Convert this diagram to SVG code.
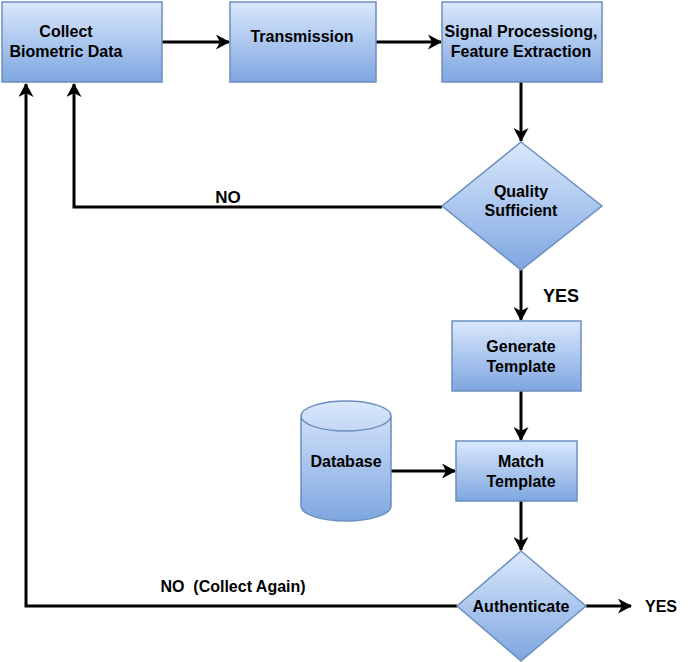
<svg xmlns="http://www.w3.org/2000/svg" width="692" height="662" viewBox="0 0 692 662">
<defs>
<linearGradient id="g" x1="0" y1="0" x2="0" y2="1"><stop offset="0" stop-color="#dae8fc"/><stop offset="1" stop-color="#7ea6e0"/></linearGradient>
<marker id="ah" viewBox="0 0 14 15" refX="13" refY="7.5" markerWidth="14" markerHeight="15" markerUnits="userSpaceOnUse" orient="auto"><path d="M0,0 L14,7.5 L0,15 L4,7.5 Z" fill="#000"/></marker>
<style>
.n{fill:url(#g);stroke:#6c8ebf;stroke-width:1.5}
.t{font-family:"Liberation Sans",Arial,sans-serif;font-weight:bold;font-size:16px;fill:#000;text-anchor:middle}
.c{fill:none;stroke:#000;stroke-width:3;marker-end:url(#ah)}
</style>
</defs>
<rect width="692" height="662" fill="#fff"/>
<g id="connectors">
<path class="c" d="M162,42 L229,42"/>
<path class="c" d="M376,42 L441,42"/>
<path class="c" d="M521,82 L521,141"/>
<path class="c" d="M442,207 L74,207 L74,84"/>
<path class="c" d="M521,270 L521,320"/>
<path class="c" d="M521,391 L521,440"/>
<path class="c" d="M391,471 L455,471"/>
<path class="c" d="M521,501 L521,550"/>
<path class="c" d="M586,606 L631,606"/>
<path class="c" d="M457,606 L26,606 L26,84"/>
<text class="t" x="228" y="203" style="font-size:17px">NO</text>
<text class="t" x="561" y="302" style="font-size:18px">YES</text>
<text class="t" x="233" y="592" xml:space="preserve">NO  (Collect Again)</text>
<text class="t" x="661" y="612">YES</text>
</g>
<g id="collect"><rect class="n" x="2" y="2" width="160" height="80"/><text class="t" x="66" y="37">Collect</text><text class="t" x="66" y="57">Biometric Data</text></g>
<g id="transmission"><rect class="n" x="230" y="2" width="146" height="80"/><text class="t" x="302" y="42">Transmission</text></g>
<g id="signal"><rect class="n" x="442" y="2" width="160" height="80"/><text class="t" x="521" y="37">Signal Processiong,</text><text class="t" x="521" y="57">Feature Extraction</text></g>
<g id="quality"><path class="n" d="M521,142 L602,206 L521,270 L442,206 Z"/><text class="t" x="521" y="197">Quality</text><text class="t" x="521" y="216">Sufficient</text></g>
<g id="generate"><rect class="n" x="452" y="321" width="129" height="70"/><text class="t" x="521" y="352">Generate</text><text class="t" x="521" y="372">Template</text></g>
<g id="database"><path class="n" d="M301,416 L301,506 A45,15 0 0 0 391,506 L391,416 A45,15 0 0 0 301,416 A45,15 0 0 0 391,416"/><text class="t" x="346" y="467">Database</text></g>
<g id="match"><rect class="n" x="456" y="441" width="121" height="60"/><text class="t" x="521" y="467">Match</text><text class="t" x="521" y="487">Template</text></g>
<g id="authenticate"><path class="n" d="M521,551 L586,606 L521,661 L457,606 Z"/><text class="t" x="521" y="612">Authenticate</text></g>
</svg>
